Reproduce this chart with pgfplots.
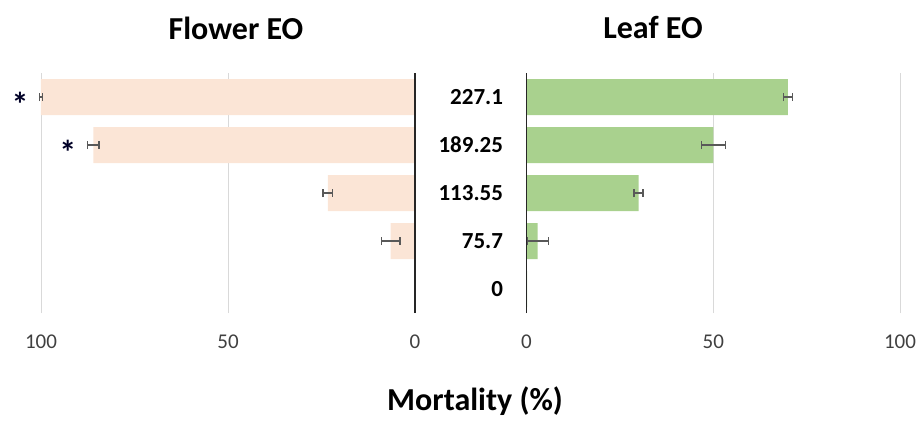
\documentclass[border=0pt]{standalone}
\usepackage{pgfplots}
\pgfplotsset{compat=1.18}
\usepackage{fontspec}
\setmainfont{Carlito}

\definecolor{flower}{HTML}{FBE5D6}
\definecolor{leaf}{HTML}{A9D18E}
\definecolor{gridgray}{HTML}{D9D9D9}
\definecolor{errgray}{HTML}{595959}
\definecolor{ticktext}{HTML}{404040}

\pgfplotsset{
  panel/.style={
    scale only axis,
    height=240pt,
    anchor=south west,
    xmin=0, xmax=100, ymin=-0.5, ymax=4.5,
    xtick={0,50,100},
    ytick={0,1,2,3,4},
    xmajorgrids,
    major grid style={gridgray, line width=0.9pt},
    axis line style={draw=none},
    major tick length=0pt,
    tick label style={font=\fontsize{21}{24}\selectfont, text=ticktext},
    /pgf/number format/assume math mode=true,
    xticklabel style={yshift=-18pt},
    xbar, bar width=36pt, bar shift=0pt,
    clip=false,
  },
  errs/.style={
    error bars/.cd, x dir=both, x explicit,
    error bar style={errgray, line width=1.2pt},
    error mark options={errgray, rotate=90, mark size=4pt, line width=1.2pt},
  },
}

\begin{document}
\begin{tikzpicture}[x=1pt, y=1pt]
  \path[use as bounding box] (0,0) rectangle (920,421);

  % Flower essential oil: bars run leftwards from zero
  \begin{axis}[panel, at={(41pt,108pt)}, width=374pt, x dir=reverse,
      yticklabels={}]
    \addplot[draw=none, fill=flower] coordinates {(0,0)};
    \addplot[draw=none, fill=flower, errs] coordinates {
      (6.5,1)  +- (2.5,0)
      (23.3,2) +- (1.3,0)
      (86,3)   +- (1.5,0)
      (100,4)  +- (0.5,0)
    };
    \draw[black!85, line width=1.3pt] (axis cs:0,-0.5) -- (axis cs:0,4.5);
    \node[font=\bfseries\fontsize{34}{34}\selectfont, text=black!85!blue, yshift=-7pt]
      at (axis cs:105.6,4) {*};
    \node[font=\bfseries\fontsize{34}{34}\selectfont, text=black!85!blue, yshift=-7pt]
      at (axis cs:92.8,3) {*};
  \end{axis}

  % Leaf essential oil: bars run rightwards from zero
  \begin{axis}[panel, at={(526.5pt,108pt)}, width=373.5pt,
      yticklabels={0,75.7,113.55,189.25,227.1},
      yticklabel style={font=\bfseries\fontsize{23}{26}\selectfont, text=black,
        anchor=east, xshift=-20pt}]
    \addplot[draw=none, fill=leaf] coordinates {(0,0)};
    \addplot[draw=none, fill=leaf, errs] coordinates {
      (3,1)   +- (2.8,0)
      (30,2)  +- (1.2,0)
      (50,3)  +- (3.2,0)
      (70,4)  +- (1.2,0)
    };
    \draw[black!85, line width=1.3pt] (axis cs:0,-0.5) -- (axis cs:0,4.5);
  \end{axis}

  \node[font=\bfseries\fontsize{32}{36}\selectfont] at (236,393) {Flower EO};
  \node[font=\bfseries\fontsize{32}{36}\selectfont] at (653,393) {Leaf EO};
  \node[font=\bfseries\fontsize{32}{36}\selectfont] at (475,20) {Mortality (\%)};
\end{tikzpicture}
\end{document}
